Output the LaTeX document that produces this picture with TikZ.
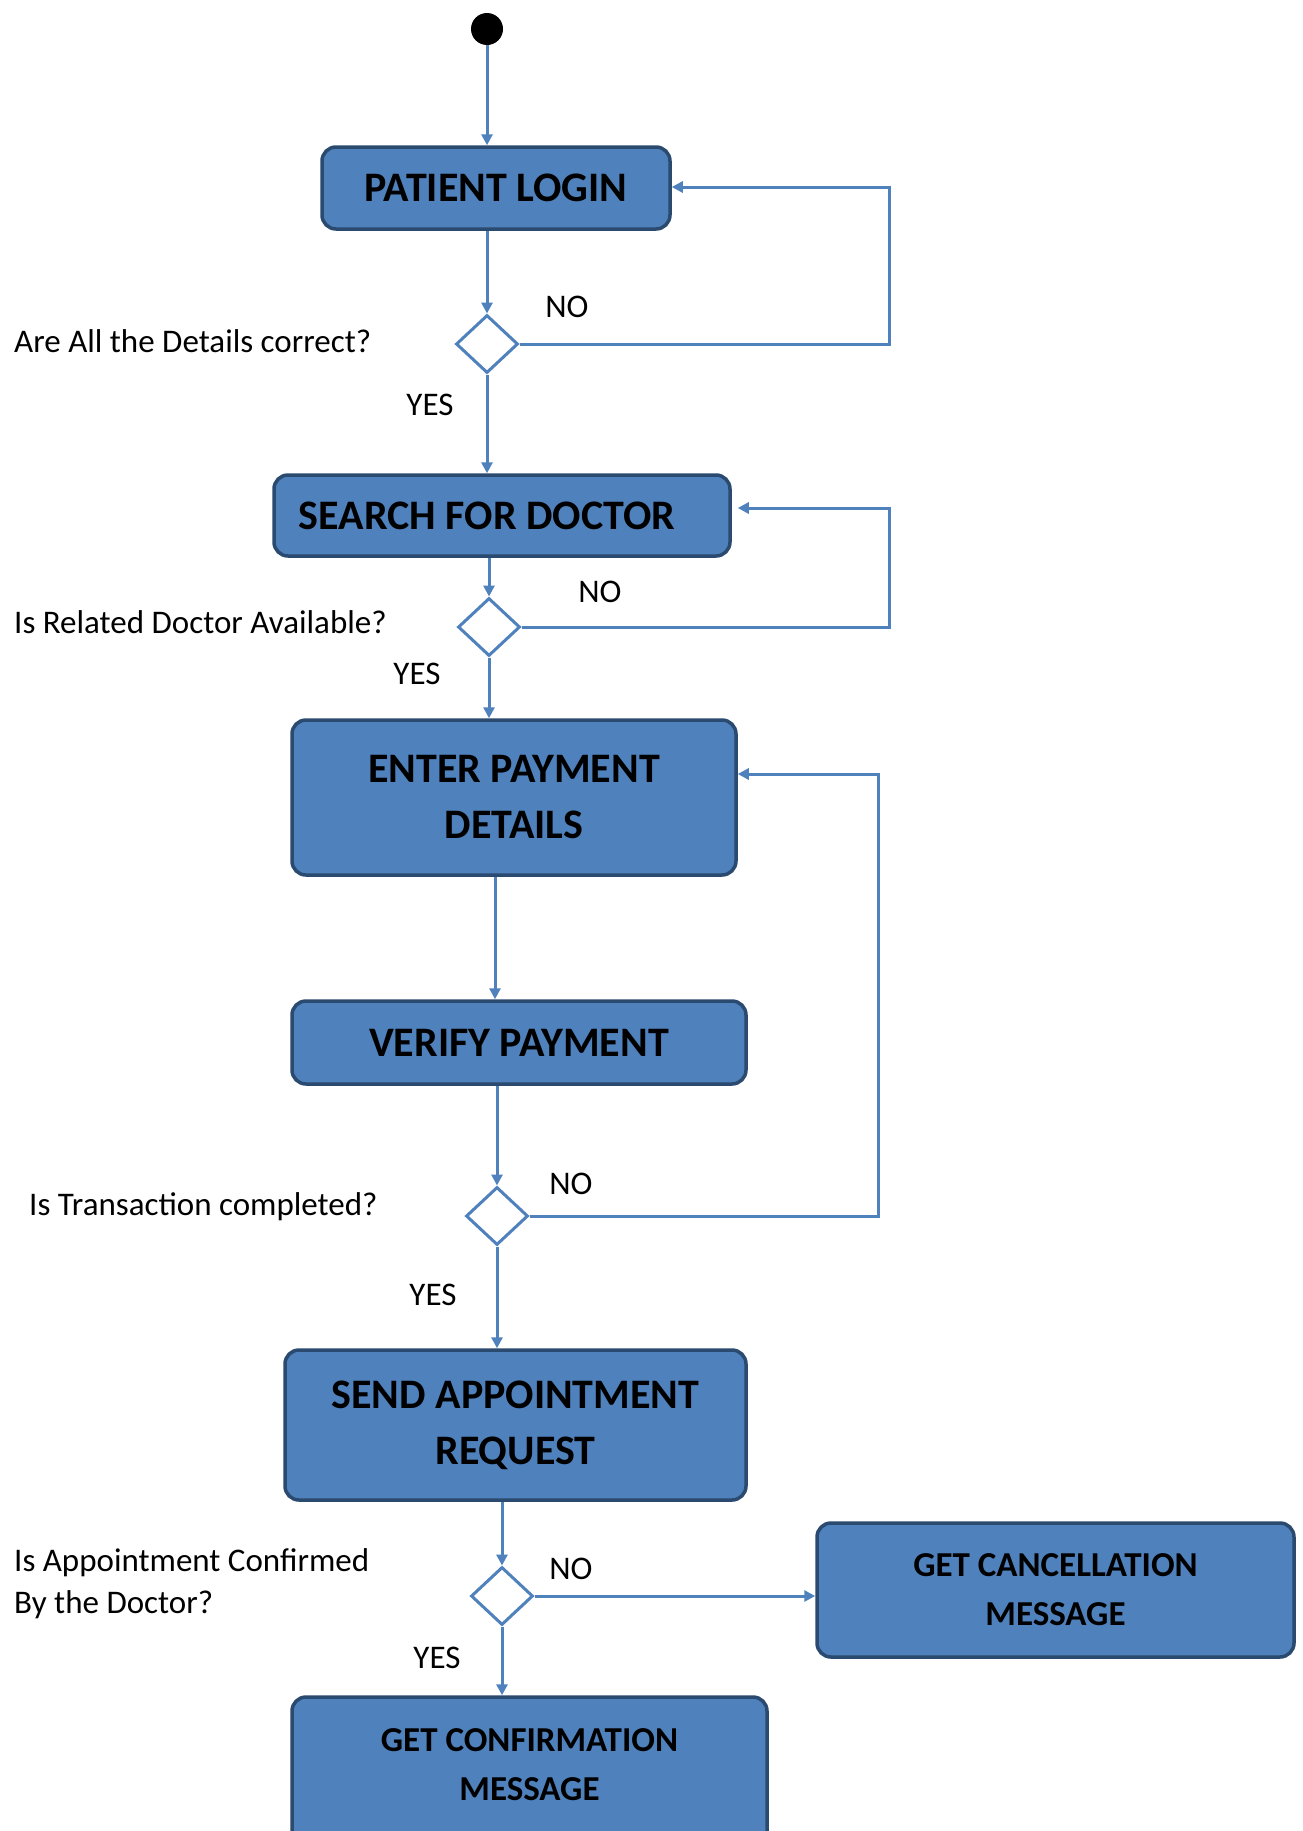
\documentclass[tikz,border=0pt]{standalone}
\usepackage{fontspec}
\setmainfont{Carlito}
\usetikzlibrary{shapes.geometric,arrows.meta}
\definecolor{boxfill}{HTML}{4F81BD}
\definecolor{boxline}{HTML}{2A4A70}
\definecolor{conncol}{HTML}{4F81BD}
\begin{document}
\begin{tikzpicture}[x=1pt,y=-1pt,
  box/.style={draw=boxline, line width=3.5pt, fill=boxfill, rounded corners=14pt, align=center, inner sep=0pt, font=\bfseries\fontsize{42}{56}\selectfont},
  smallbox/.style={box, font=\bfseries\fontsize{35}{49}\selectfont},
  boxtext/.style={align=center, inner sep=0pt, font=\bfseries\fontsize{35}{49}\selectfont},
  decision/.style={diamond, draw=conncol, line width=3pt, fill=white, minimum width=62pt, minimum height=58pt, inner sep=0pt},
  conn/.style={draw=conncol, line width=3pt, -{Triangle[length=11pt,width=11pt]}},
  lbl/.style={font=\fontsize{33}{42}\selectfont, inner sep=0pt},
]
\clip (0,0) rectangle (1302,1831);
\fill[white] (0,0) rectangle (1302,1831);

% nodes
\node[circle, fill=black, minimum size=32pt, inner sep=0pt] (start) at (487,29) {};
\node[box, minimum width=348pt, minimum height=82pt] (login) at (496,188) {PATIENT LOGIN};
\node[decision] (d1) at (487,344) {};
\node[box, minimum width=456pt, minimum height=81pt] (search) at (502,515.5) {\hspace*{-30pt}SEARCH FOR DOCTOR};
\node[decision] (d2) at (489,627) {};
\node[box, minimum width=444pt, minimum height=155pt] (enter) at (514,797.5) {ENTER PAYMENT\\DETAILS};
\node[box, minimum width=454pt, minimum height=83pt] (verify) at (519,1042.5) {VERIFY PAYMENT};
\node[decision] (d3) at (497,1216) {};
\node[box, minimum width=461pt, minimum height=150pt] (send) at (515.5,1425) {SEND APPOINTMENT\\REQUEST};
\node[decision] (d4) at (502,1596) {};
\node[smallbox, minimum width=477pt, minimum height=134pt] (cancel) at (1055.5,1590) {GET CANCELLATION\\MESSAGE};
\node[box, minimum width=475pt, minimum height=210pt] (confirm) at (529.5,1802) {};
\node[boxtext] (confirmtext) at (529.5,1765) {GET CONFIRMATION\\MESSAGE};

% labels
\node[lbl, anchor=base west] (q1) at (14,352) {Are All the Details correct?};
\node[lbl, anchor=base west] (q2) at (14,633) {Is Related Doctor Available?};
\node[lbl, anchor=base west] (q3) at (29,1215) {Is Transaction completed?};
\node[lbl, anchor=west, align=left] (q4) at (14,1584) {Is Appointment Confirmed\\By the Doctor?};
\node[lbl] (no1) at (567,307) {NO};
\node[lbl] (yes1) at (430,405) {YES};
\node[lbl] (no2) at (600,592) {NO};
\node[lbl] (yes2) at (417,674) {YES};
\node[lbl] (no3) at (571,1184) {NO};
\node[lbl] (yes3) at (433,1295) {YES};
\node[lbl] (no4) at (571,1569) {NO};
\node[lbl] (yes4) at (437,1658) {YES};

% loop corners
\coordinate (c1) at (889,187);
\coordinate (c2) at (889,508);
\coordinate (c3) at (878,774);

% connectors
\draw[conn] (start.south) -- (start.south |- login.north);
\draw[conn] (d1.north |- login.south) -- (d1.north);
\draw[conn] (d1.east) -| (c1) -- (login.east |- c1);
\draw[conn] (d1.south) -- (d1.south |- search.north);
\draw[conn] (d2.north |- search.south) -- (d2.north);
\draw[conn] (d2.east) -| (c2) -- ([xshift=6pt]search.east |- c2);
\draw[conn] (d2.south) -- (d2.south |- enter.north);
\draw[conn] ([xshift=-19pt]enter.south) -- ([xshift=-24pt]verify.north);
\draw[conn] (d3.north |- verify.south) -- (d3.north);
\draw[conn] (d3.east) -| (c3) -- (enter.east |- c3);
\draw[conn] (d3.south) -- (d3.south |- send.north);
\draw[conn] (d4.north |- send.south) -- (d4.north);
\draw[conn] (d4.east) -- (cancel.west |- d4.east);
\draw[conn] (d4.south) -- (d4.south |- confirm.north);
\end{tikzpicture}
\end{document}
